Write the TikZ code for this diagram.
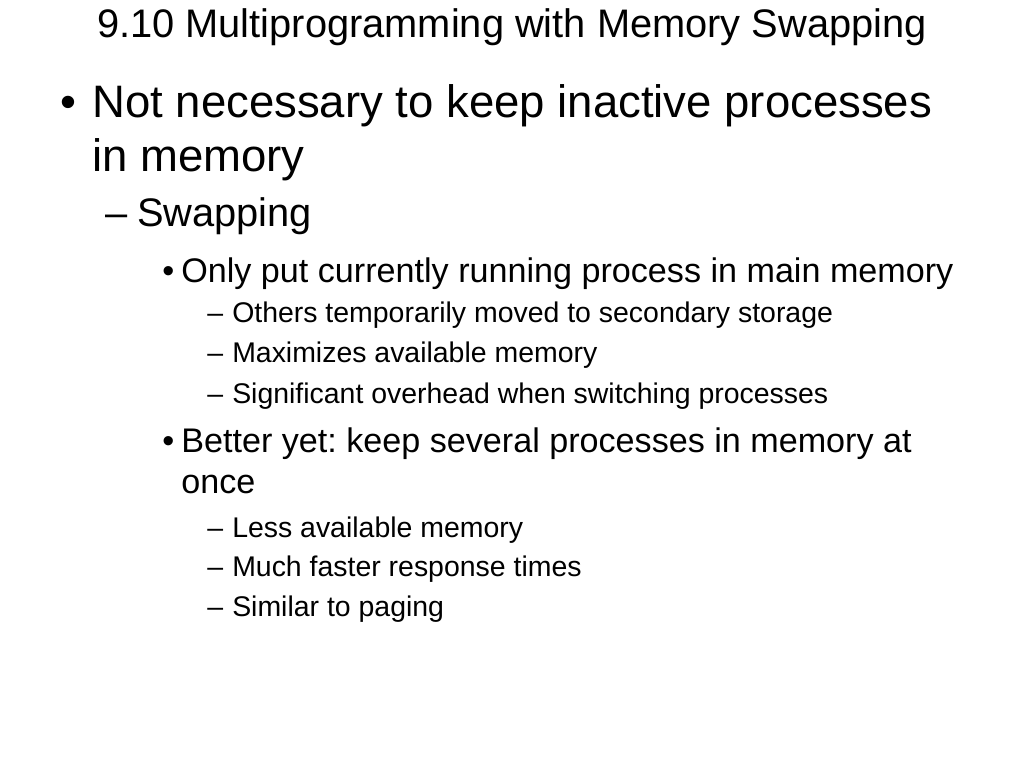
\documentclass[tikz,border=0pt]{standalone}
\usepackage{fontspec}
\setmainfont{Liberation Sans}
\usetikzlibrary{calc}
\frenchspacing
\tikzset{
    txt/.style={anchor=base west,inner sep=0pt},
    lvlone/.style={txt,font=\fontsize{32}{36}\selectfont},
    lvltwo/.style={txt,font=\fontsize{28}{32}\selectfont},
    lvlthree/.style={txt,font=\fontsize{24}{28}\selectfont},
    lvlfour/.style={txt,font=\fontsize{20}{24}\selectfont}
}

\begin{document}
\begin{tikzpicture}[x=1pt,y=-1pt]
        \useasboundingbox (0,0) rectangle (720,540);

        \draw (360,26.7) node[anchor=base,inner sep=0pt,font=\fontsize{28}{32}\selectfont](title){9.10 Multiprogramming with Memory Swapping};

        % first level
        \draw ( 42.2, 82.8) node[lvlone](b1){•};
        \draw ( 64.7, 82.8) node[lvlone](p1){Not necessary to keep inactive processes};
        \draw ( 64.7,120.7) node[lvlone](p1b){in memory};

        % second level
        \draw ( 73.8,159.4) node[lvltwo](d1){–};
        \draw ( 96.3,159.4) node[lvltwo](s1){Swapping};

        % third level
        \draw (113.9,198.3) node[lvlthree](b2){•};
        \draw (127.3,198.3) node[lvlthree](q1){Only put currently running process in main memory};
        \draw (113.9,318.5) node[lvlthree](b3){•};
        \draw (127.3,318.5) node[lvlthree](q2){Better yet: keep several processes in memory at};
        \draw (127.3,346.7) node[lvlthree](q2b){once};

        % fourth level
        \foreach \y/\n/\t in {227.0/r1/Others temporarily moved to secondary storage,
                              255.2/r2/Maximizes available memory,
                              283.4/r3/Significant overhead when switching processes,
                              377.6/r4/Less available memory,
                              405.7/r5/Much faster response times,
                              433.8/r6/Similar to paging}{
            \draw (145.6,\y) node[lvlfour](d\n){–};
            \draw (163.1,\y) node[lvlfour](\n){\t};
        }
    \end{tikzpicture}
\end{document}
